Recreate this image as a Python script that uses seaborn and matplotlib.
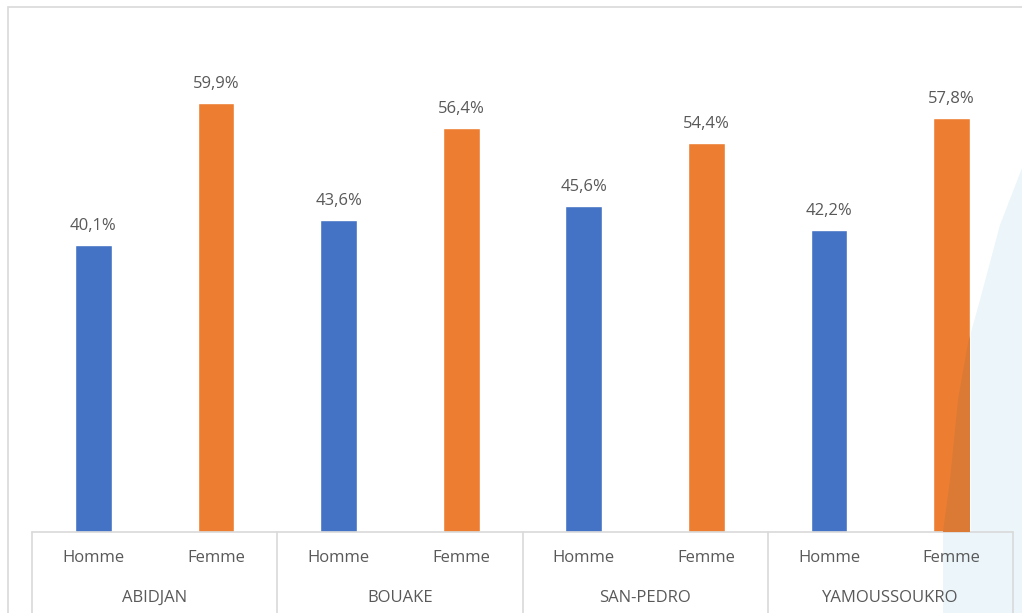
import matplotlib
matplotlib.use("Agg")
import matplotlib.pyplot as plt
import matplotlib.transforms as mtransforms
from matplotlib.patches import Polygon, Rectangle
import seaborn as sns
import pandas as pd

cities = ["ABIDJAN", "BOUAKE", "SAN-PEDRO", "YAMOUSSOUKRO"]
sexes = ["Homme", "Femme"]
homme = [40.1, 43.6, 45.6, 42.2]
femme = [59.9, 56.4, 54.4, 57.8]
colors = ["#4472C4", "#ED7D31"]

rows = []
for c, h, f in zip(cities, homme, femme):
    rows.append({"city": c, "sexe": "Homme", "val": h})
    rows.append({"city": c, "sexe": "Femme", "val": f})
df = pd.DataFrame(rows)

sns.set_theme(style="white")
plt.rcParams["font.family"] = ["Open Sans", "DejaVu Sans"]

W, H = 1022, 613
fig = plt.figure(figsize=(W / 100, H / 100), dpi=100)
fig.patch.set_facecolor("white")
ax_l, ax_r, ax_b, ax_t = 32, 1013, 532, 31
ax = fig.add_axes([ax_l / W, 1 - ax_b / H, (ax_r - ax_l) / W, (ax_b - ax_t) / H])
ax.set_facecolor("none")

sns.barplot(data=df, x="city", y="val", hue="sexe", order=cities, hue_order=sexes,
            palette=colors, width=1.0, gap=0.7, ax=ax, legend=False, saturation=1)

ax.set_xlim(-0.5, 3.5)
ax.set_ylim(0, 70)
for s in ax.spines.values():
    s.set_visible(False)
ax.set_xticks([])
ax.set_yticks([])
ax.set_xlabel("")
ax.set_ylabel("")

txt_col = "#595959"
fs = 12
for cont in ax.containers:
    labels = [f"{b.get_height():.1f}".replace(".", ",") + "%" for b in cont]
    ax.bar_label(cont, labels=labels, padding=8, fontsize=fs, color=txt_col)

line_col = "#D9D9D9"
trans = mtransforms.blended_transform_factory(ax.transData, ax.transAxes)
bottom = -(H - ax_b) / (ax_b - ax_t)
ax.plot([-0.5, 3.5], [0, 0], transform=trans, color=line_col, lw=1.2, clip_on=False)
for x in [-0.5, 0.5, 1.5, 2.5, 3.5]:
    ax.plot([x, x], [0, bottom], transform=trans, color=line_col, lw=1.2, clip_on=False)

y_sub = -(558 - ax_b) / (ax_b - ax_t)
y_grp = -(598 - ax_b) / (ax_b - ax_t)
for i, c in enumerate(cities):
    for j, s in enumerate(sexes):
        ax.text(i - 0.25 + 0.5 * j, y_sub, s, transform=trans, ha="center", va="center",
                fontsize=fs, color=txt_col)
    ax.text(i, y_grp, c, transform=trans, ha="center", va="center",
            fontsize=fs, color=txt_col)

# outer chart border (right and bottom edges lie outside the image)
fig.patches.append(Rectangle((8 / W, -0.05), 1.0, 1 - 7 / H + 0.05,
                             transform=fig.transFigure, fill=False,
                             edgecolor=line_col, lw=1.2, zorder=2))

# decorative light shape on the right (behind the chart)
pts = [(1040, 130), (1022, 168), (1000, 225), (980, 300), (968, 343), (958, 400),
       (950, 480), (943, 532), (943, 613), (1040, 613)]
fig_pts = [(x / W, 1 - y / H) for x, y in pts]
poly = Polygon(fig_pts, closed=True, transform=fig.transFigure,
               facecolor="#EBF5FA", edgecolor="none", zorder=-1)
fig.patches.append(poly)
# the shape darkens the bar it overlaps
last_bar = ax.containers[1][3]
ov = Polygon(fig_pts, closed=True, transform=fig.transFigure,
             facecolor="#DA7A35", edgecolor="none", zorder=5)
ax.add_patch(ov)
ov.set_clip_path(last_bar)

fig.savefig("out.png", dpi=100)
